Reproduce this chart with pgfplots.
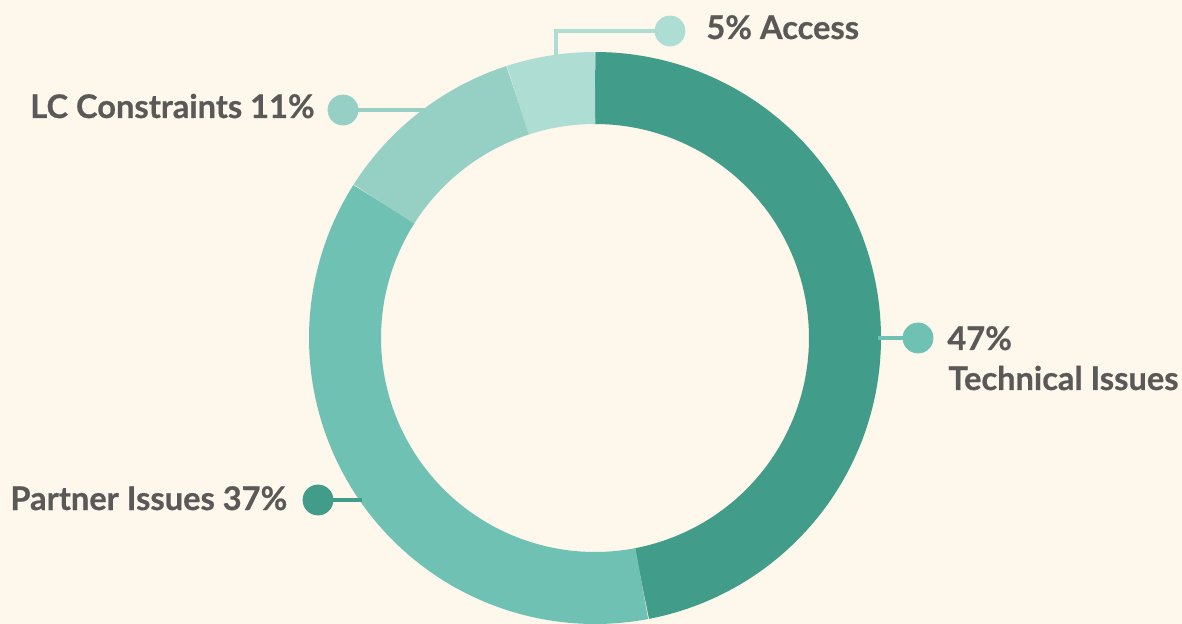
\documentclass[border=0pt]{standalone}
\usepackage{fontspec}
\setmainfont{Lato}[BoldFeatures={FakeBold=0.6}]
\usepackage{pgfplots}
\pgfplotsset{compat=1.18}
\definecolor{bg}{HTML}{FDF7EC}
\definecolor{cTech}{HTML}{419C89}
\definecolor{cPart}{HTML}{6FC2B3}
\definecolor{cLC}{HTML}{96D0C4}
\definecolor{cAcc}{HTML}{AEDDD4}
\definecolor{txt}{HTML}{5B5858}
% percentages
\def\pTech{47}\def\pPart{37}\def\pLC{11}\def\pAcc{5}
\begin{document}
\begin{tikzpicture}
\begin{axis}[
  at={(0,0)}, anchor=south west,
  scale only axis, width=591pt, height=312pt,
  xmin=0, xmax=1182, ymin=0, ymax=624, y dir=reverse,
  hide axis, clip=false,
  every axis plot/.append style={line cap=butt},
]
\fill[bg] (axis cs:0,0) rectangle (axis cs:1182,624);
% ring sectors (clockwise from top)
\pgfmathsetmacro{\aA}{90}
\pgfmathsetmacro{\aB}{90-3.6*\pTech}
\pgfmathsetmacro{\aC}{\aB-3.6*\pPart}
\pgfmathsetmacro{\aD}{\aC-3.6*\pLC}
\pgfmathsetmacro{\aE}{\aD-3.6*\pAcc}
\addplot[cTech, line width=36pt, domain=\aB:\aA, samples=120, variable=\t] ({595+250*cos(\t)},{338-250*sin(\t)});
\addplot[cPart, line width=36pt, domain=\aC:\aB, samples=100, variable=\t] ({595+250*cos(\t)},{338-250*sin(\t)});
\addplot[cLC, line width=36pt, domain=\aD:\aC, samples=40, variable=\t] ({595+250*cos(\t)},{338-250*sin(\t)});
\addplot[cAcc, line width=36pt, domain=\aE:\aD, samples=20, variable=\t] ({595+250*cos(\t)},{338-250*sin(\t)});
% leader lines
\addplot[cAcc, line width=1.6pt, line cap=butt, line join=miter] coordinates {(556,58) (556,31) (670,31)};
\addplot[cLC, line width=1.6pt] coordinates {(343,110) (425,110)};
\addplot[cPart, line width=1.6pt] coordinates {(878,338) (918,338)};
\addplot[cTech, line width=1.6pt] coordinates {(318,500) (362,500)};
% dots
\addplot[cAcc, only marks, mark=*, mark size=7.5pt, mark options={draw=cAcc, fill=cAcc}] coordinates {(670,31)};
\addplot[cLC, only marks, mark=*, mark size=7.5pt, mark options={draw=cLC, fill=cLC}] coordinates {(343,110)};
\addplot[cPart, only marks, mark=*, mark size=7.5pt, mark options={draw=cPart, fill=cPart}] coordinates {(918,338)};
\addplot[cTech, only marks, mark=*, mark size=7.5pt, mark options={draw=cTech, fill=cTech}] coordinates {(318,500)};
% labels
\tikzset{lab/.style={font=\bfseries\fontsize{16.3}{20}\selectfont, text=txt, inner sep=0pt}}
\node[lab, anchor=base west] at (axis cs:706,39) {\pAcc\% Access};
\node[lab, anchor=base east] at (axis cs:315,118) {LC Constraints \pLC\%};
\node[lab, anchor=base west] at (axis cs:947,350) {\pTech\%};
\node[lab, anchor=base west] at (axis cs:948,390) {Technical Issues};
\node[lab, anchor=base west] at (axis cs:10,510) {Partner Issues \pPart\%};
\end{axis}
\useasboundingbox (0,0) rectangle (591pt,312pt);
\end{tikzpicture}
\end{document}
